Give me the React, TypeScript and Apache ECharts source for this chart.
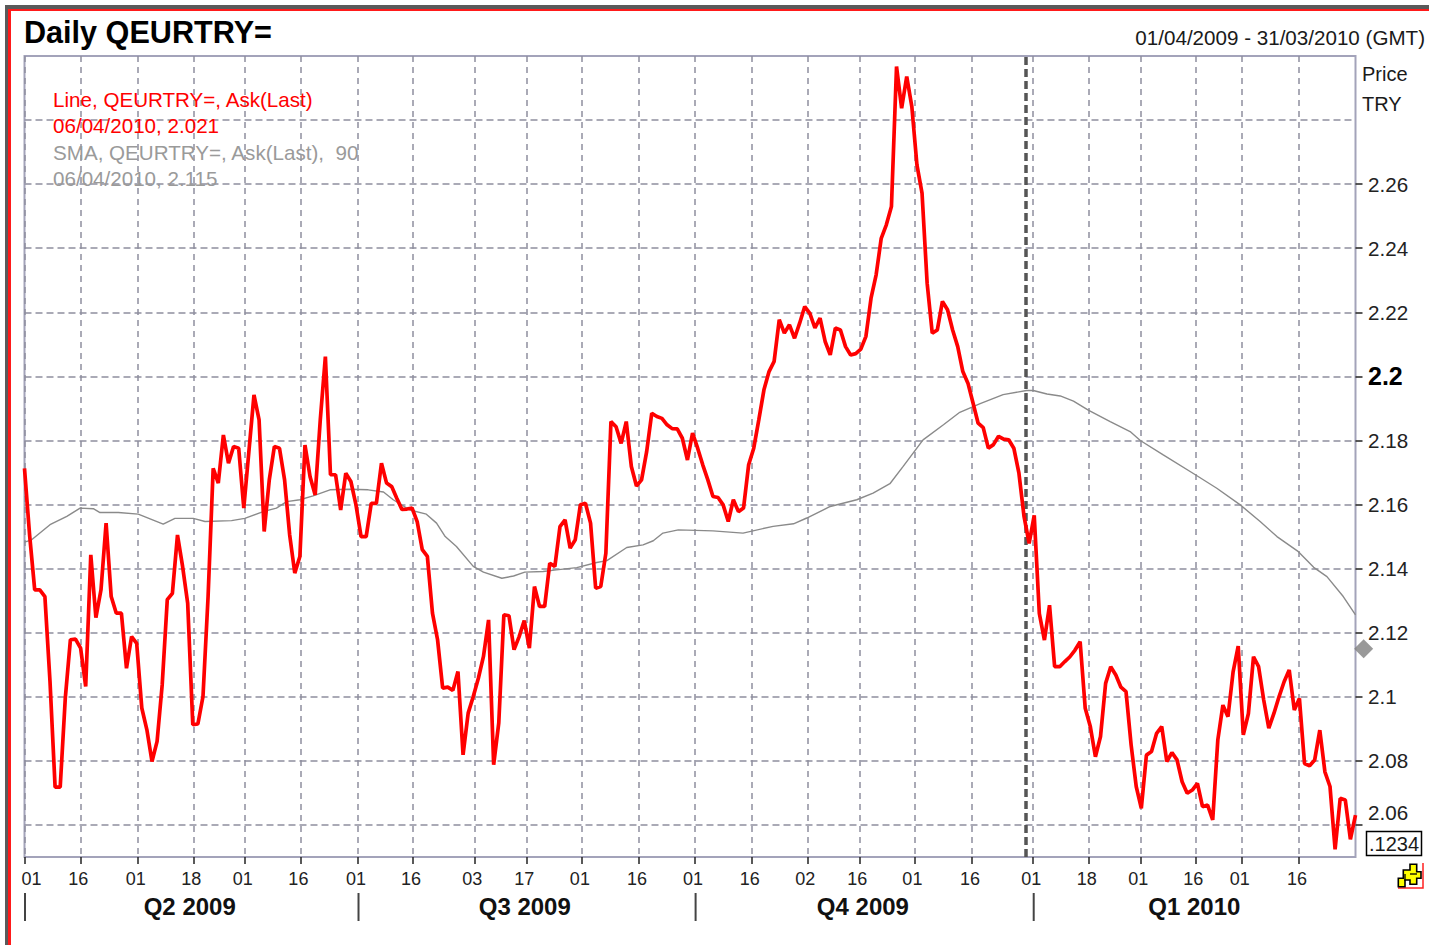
import React, { useEffect, useRef } from "react";
import * as echarts from "echarts";

const titleText = "Daily QEURTRY=";
const rangeText = "01/04/2009 - 31/03/2010 (GMT)";
const legendLines = [
  "Line, QEURTRY=, Ask(Last)",
  "06/04/2010, 2.021",
  "SMA, QEURTRY=, Ask(Last),  90",
  "06/04/2010, 2.115",
];
const quarterLabels = ["Q2 2009", "Q3 2009", "Q4 2009", "Q1 2010"];
const quarterDays = [32.4, 98.1, 164.4, 229.4];
const quarterStartDays = [0, 65.4, 131.5, 197.8];

const xTickDays = [0, 10.94, 22.2, 33.1, 43.2, 54.1, 65.4, 76.2, 88.2, 98.4, 109.3, 120.5, 131.5, 142.6, 153.5, 163.7, 174.5, 185.8, 197.8, 208.7, 218.8, 229.6, 238.7, 249.9];
const xTickLabels = ["01", "16", "01", "18", "01", "16", "01", "16", "03", "17", "01", "16", "01", "16", "02", "16", "01", "16", "01", "18", "01", "16", "01", "16"];
const gridPrices = [2.06, 2.08, 2.1, 2.12, 2.14, 2.16, 2.18, 2.2, 2.22, 2.24, 2.26, 2.28];
const labelPrices = [2.06, 2.08, 2.1, 2.12, 2.14, 2.16, 2.18, 2.2, 2.22, 2.24, 2.26];
const cursorDay = 196.4;
const lastSmaDay = 262.6;
const lastSma = 2.115;

// Daily Ask(Last), one value per trading day
const priceValues = [
  2.1713, 2.1505, 2.1334, 2.1334, 2.1313, 2.1048, 2.0718, 2.0718, 2.0996, 2.1178,
  2.118, 2.1152, 2.1032, 2.1443, 2.1247, 2.1334, 2.1542, 2.1313, 2.1261, 2.1261,
  2.1089, 2.1188, 2.1167, 2.0965, 2.0897, 2.0798, 2.0861, 2.1037, 2.1303, 2.1323,
  2.1505, 2.1407, 2.1292, 2.0913, 2.0915, 2.1001, 2.1313, 2.1713, 2.1667, 2.1817,
  2.1729, 2.1781, 2.1776, 2.1589, 2.1765, 2.1942, 2.1864, 2.1516, 2.1677, 2.1781,
  2.1776, 2.1677, 2.1505, 2.1386, 2.1438, 2.1786, 2.1687, 2.163, 2.1864, 2.2062,
  2.1693, 2.1693, 2.1583, 2.1698, 2.1672, 2.1599, 2.15, 2.15, 2.1604, 2.1604,
  2.1729, 2.1667, 2.1656, 2.162, 2.1585, 2.1586, 2.1589, 2.1547, 2.1459, 2.1438,
  2.1261, 2.1178, 2.1027, 2.103, 2.102, 2.1079, 2.0819, 2.0949, 2.1001, 2.1058,
  2.1126, 2.124, 2.0788, 2.0918, 2.1256, 2.1253, 2.1147, 2.1188, 2.1238, 2.1152,
  2.1344, 2.1282, 2.1282, 2.1417, 2.1407, 2.1531, 2.1552, 2.1464, 2.149, 2.1599,
  2.1604, 2.1542, 2.1339, 2.1344, 2.1448, 2.1859, 2.1843, 2.1791, 2.1859, 2.1719,
  2.1658, 2.1677, 2.1765, 2.1885, 2.1875, 2.1869, 2.1849, 2.1837, 2.1836, 2.1807,
  2.1739, 2.1823, 2.1776, 2.1724, 2.1677, 2.1625, 2.1622, 2.1599, 2.1547, 2.1615,
  2.1578, 2.1589, 2.1724, 2.1776, 2.1865, 2.1958, 2.2015, 2.2047, 2.2177, 2.2135,
  2.2161, 2.2119, 2.2166, 2.2218, 2.2197, 2.2151, 2.2182, 2.2109, 2.2067, 2.2151,
  2.2145, 2.2093, 2.2067, 2.2071, 2.2085, 2.2125, 2.2244, 2.2317, 2.2431, 2.2473,
  2.253, 2.2967, 2.2837, 2.2936, 2.2842, 2.266, 2.2572, 2.2291, 2.2135, 2.2145,
  2.2234, 2.2208, 2.2145, 2.2093, 2.2015, 2.1979, 2.1917, 2.1854, 2.184, 2.1776,
  2.1787, 2.1813, 2.1804, 2.1802, 2.1776, 2.1698, 2.1563, 2.1479, 2.1566, 2.126,
  2.1177, 2.1286, 2.1094, 2.1094, 2.111, 2.1125, 2.1146, 2.1172, 2.0964, 2.0907,
  2.0813, 2.0876, 2.1042, 2.1094, 2.1068, 2.103, 2.1016, 2.085, 2.072, 2.0652,
  2.0818, 2.0829, 2.0886, 2.0907, 2.0798, 2.0826, 2.0803, 2.0735, 2.0699, 2.0709,
  2.073, 2.0657, 2.0662, 2.0616, 2.0865, 2.0974, 2.0938, 2.1078, 2.1158, 2.0881,
  2.0948, 2.1125, 2.1094, 2.099, 2.0902, 2.0948, 2.1, 2.1047, 2.1084, 2.0959,
  2.0995, 2.0792, 2.0785, 2.0803, 2.0896, 2.0766, 2.072, 2.0524, 2.0683, 2.0678,
  2.0555, 2.0631,
];

// 90-day simple moving average, sampled where the picture shows a bend
const smaDays = [
  0, 1.4, 5, 8.3, 10.9, 13.5, 14.8, 18.4, 22.3, 27.2, 29.5, 33.1, 35.4, 40.6, 43.2, 46.8, 49.4, 51.4, 54, 56.6,
  59.9, 63.8, 67.4, 70.4, 72.3, 75.6, 78.8, 80.8, 82.5, 84.7, 88, 90, 93.6, 95.9, 98.1, 101.7, 104.3, 108.3, 112.2, 114.2,
  118.1, 121.3, 123.3, 125.2, 128.2, 135, 140.9, 146.8, 150.8, 153.4, 158, 163.2, 166.4, 169.7, 172.3, 176.2, 180.2, 183.4, 187.4, 191.9,
  196.5, 197.8, 200.5, 203.1, 205.7, 208.6, 212.9, 216.8, 218.8, 223.3, 229.6, 233.8, 238.4, 242.3, 245.6, 249.8, 252.8, 255.4, 258.6, 261,
];
const smaValues = [
  2.1483, 2.149, 2.1537, 2.1563, 2.1589, 2.1587, 2.1575, 2.1575, 2.157, 2.1539, 2.1557, 2.1557, 2.1547, 2.155, 2.1557, 2.1578, 2.1589, 2.1609, 2.1615, 2.1627,
  2.1646, 2.1648, 2.1646, 2.1639, 2.1615, 2.1583, 2.157, 2.1542, 2.15, 2.1469, 2.1407, 2.1389, 2.137, 2.1377, 2.1389, 2.1391, 2.1396, 2.1403, 2.1419, 2.1425,
  2.1466, 2.1474, 2.1487, 2.1511, 2.1521, 2.1518, 2.1511, 2.1532, 2.154, 2.1558, 2.1594, 2.1615, 2.1636, 2.1665, 2.1719, 2.1802, 2.1849, 2.1888, 2.1915, 2.1943,
  2.1956, 2.1956, 2.1945, 2.1939, 2.1923, 2.1895, 2.1859, 2.1828, 2.18, 2.1755, 2.1693, 2.1651, 2.1599, 2.1547, 2.15, 2.1453, 2.1404, 2.1375, 2.1313, 2.1256,
];

const FONT = "'Liberation Sans', Arial, sans-serif";
const PLOT = { left: 24.5, top: 56, width: 1331, height: 801 };
const DAY_MAX = 261;
const dayX = (d: number) => PLOT.left + (d / DAY_MAX) * PLOT.width;

const iconShape = [[1398.3, 878.3], [1403.3, 878.3], [1403.3, 870], [1410, 870], [1410, 864.3], [1416.7, 864.3], [1416.7, 871.7], [1421, 871.7], [1421, 878.3], [1416.7, 878.3], [1416.7, 884.3], [1410, 884.3], [1410, 880], [1405, 880], [1405, 886.7], [1398.3, 886.7]];

export default function App() {
  const ref = useRef<HTMLDivElement>(null);
  useEffect(() => {
    document.body.style.margin = "0";
    document.body.style.background = "#fff";
    const chart = echarts.init(ref.current!, null, { renderer: "svg" });
    const text = (x: number, y: number, t: string, size: number, fill: string, extra: any = {}) => ({
      type: "text", x, y, silent: true, z: 30,
      style: { text: t, fill, font: `${extra.weight || "normal"} ${size}px ${FONT}`, align: extra.align || "left", verticalAlign: "middle" },
    });
    const graphic: any[] = [
      { type: "rect", shape: { x: 5, y: 5, width: 1424, height: 4 }, style: { fill: "#5a5a5a" }, z: 20 },
      { type: "rect", shape: { x: 5, y: 5, width: 3, height: 940 }, style: { fill: "#5a5a5a" }, z: 20 },
      { type: "rect", shape: { x: 8, y: 9, width: 1421, height: 2 }, style: { fill: "#ff1a1a" }, z: 21 },
      { type: "rect", shape: { x: 8, y: 9, width: 3, height: 936 }, style: { fill: "#ff1a1a" }, z: 21 },
      text(24, 31.5, titleText, 30.6, "#000", { weight: "bold" }),
      text(1425, 37, rangeText, 20.6, "#1a1a1a", { align: "right" }),
      text(53, 99, legendLines[0], 20.6, "#ff0000"),
      text(53, 125.5, legendLines[1], 20.6, "#ff0000"),
      text(53, 152, legendLines[2], 20.6, "#9a9a9a"),
      text(53, 178.5, legendLines[3], 20.6, "#9a9a9a"),
      text(1362, 74, "Price", 20, "#1a1a1a"),
      text(1362, 104, "TRY", 20, "#1a1a1a"),
      { type: "rect", shape: { x: 1366.5, y: 831.5, width: 55, height: 24 }, style: { fill: "#fff", stroke: "#000", lineWidth: 1.5 }, z: 25 },
      text(1369, 844, ".1234", 20, "#1a1a1a"),
      { type: "polyline", shape: { points: [[1398, 888], [1423, 888], [1423, 863]] }, style: { stroke: "#ff2020", lineWidth: 1.5, fill: "none" }, z: 25 },
      { type: "polygon", shape: { points: iconShape }, style: { fill: "#ffff00", stroke: "#000", lineWidth: 1.6 }, z: 26 },
      { type: "line", shape: { x1: 1405, y1: 874, x2: 1405, y2: 881 }, style: { stroke: "#000", lineWidth: 1.3 }, z: 27 },
      { type: "line", shape: { x1: 1410, y1: 874, x2: 1417, y2: 874 }, style: { stroke: "#000", lineWidth: 1.3 }, z: 27 },
      ...quarterLabels.map((q, i) => text(dayX(quarterDays[i]), 906, q, 24, "#111", { weight: "bold", align: "center" })),
      ...quarterStartDays.map((d) => ({
        type: "line", shape: { x1: dayX(d) + 0.5, y1: 893, x2: dayX(d) + 0.5, y2: 921 }, style: { stroke: "#444", lineWidth: 2 }, z: 20,
      })),
    ];
    const axisBase = { min: 2.05, max: 2.3, position: "right" as const, scale: true };
    chart.setOption({
      animation: false,
      graphic,
      grid: { ...PLOT, show: true, backgroundColor: "#fff", borderColor: "#a3a3ba", borderWidth: 2 },
      xAxis: {
        type: "value", min: 0, max: DAY_MAX,
        axisLine: { show: false },
        axisTick: { show: true, customValues: xTickDays, length: 7, lineStyle: { color: "#222", width: 1.5 } },
        splitLine: { show: true, lineStyle: { color: "#8f8f9f", type: [6, 5], width: 1.5 } },
        axisLabel: {
          customValues: xTickDays, margin: 13, fontSize: 18, fontFamily: FONT, color: "#222",
          showMinLabel: true, showMaxLabel: true,
          formatter: (v: number) => {
            const i = xTickDays.indexOf(v);
            return i === 0 ? `{first|${xTickLabels[i]}}` : `{rest|${xTickLabels[i]}}`;
          },
          rich: {
            first: { fontSize: 18, fontFamily: FONT, color: "#222", padding: [0, 0, 0, 14] },
            rest: { fontSize: 18, fontFamily: FONT, color: "#222", padding: [0, 4, 0, 0] },
          },
        },
      },
      yAxis: [
        {
          ...axisBase, type: "value",
          axisLine: { show: false }, axisTick: { show: false, customValues: gridPrices }, axisLabel: { show: false, customValues: gridPrices },
          splitLine: { show: true, lineStyle: { color: "#8f8f9f", type: [7, 4], width: 1.5 } },
        },
        {
          ...axisBase, type: "value",
          axisLine: { show: false },
          splitLine: { show: false },
          axisTick: { show: true, customValues: labelPrices, length: 7, lineStyle: { color: "#222", width: 1.5 } },
          axisLabel: {
            customValues: labelPrices, margin: 12.5, showMinLabel: true, showMaxLabel: true,
            formatter: (v: number) => (v === 2.2 ? "{big|2.2}" : v === 2.06 ? "{raised|2.06}" : `{std|${v}}`),
            rich: {
              big: { fontSize: 25, fontWeight: "bold", fontFamily: FONT, color: "#000" },
              std: { fontSize: 20.6, fontFamily: FONT, color: "#222" },
              raised: { fontSize: 20.6, fontFamily: FONT, color: "#222", padding: [0, 0, 24, 0] },
            },
          },
        },
      ],
      series: [
        {
          name: "SMA", type: "line", data: smaDays.map((d, i) => [d, smaValues[i]]), showSymbol: false, symbol: "none", z: 3,
          lineStyle: { color: "#8a8a8a", width: 1.4 },
          markLine: {
            silent: true, symbol: "none", label: { show: false }, z: 2,
            lineStyle: { color: "#555", width: 3.5, type: [8, 4] },
            data: [{ xAxis: cursorDay }],
          },
        },
        {
          name: "Price", type: "line", data: priceValues.map((v, i) => [i, v]), showSymbol: false, symbol: "none", z: 4,
          lineStyle: { color: "#ff0000", width: 3.7 },
        },
        {
          name: "SMA last", type: "scatter", data: [[lastSmaDay, lastSma]], symbol: "diamond", symbolSize: 19, clip: false, z: 5,
          itemStyle: { color: "#808080" },
        },
      ],
    });
    return () => chart.dispose();
  }, []);
  return <div ref={ref} style={{ position: "absolute", left: 0, top: 0, width: 1429, height: 945 }} />;
}
